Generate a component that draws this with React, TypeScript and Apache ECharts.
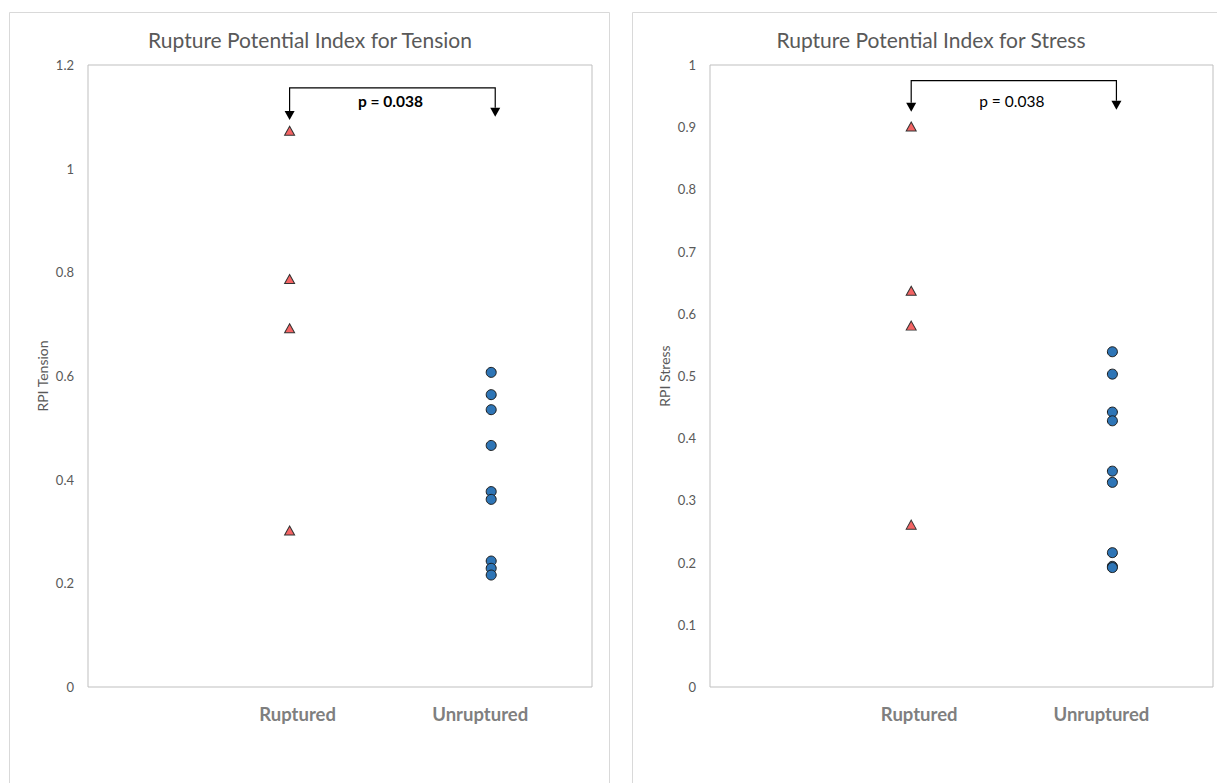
import React, { useEffect, useRef } from "react";
import * as echarts from "echarts";

const categories = ["Ruptured", "Unruptured"];
const categoryX = [1, 2];
const titles = ["Rupture Potential Index for Tension", "Rupture Potential Index for Stress"];
const axisNames = ["RPI Tension", "RPI Stress"];
const tensionRuptured = [1.073, 0.787, 0.692, 0.302];
const tensionUnruptured = [0.607, 0.564, 0.535, 0.466, 0.377, 0.362, 0.243, 0.229, 0.216];
const stressRuptured = [0.901, 0.637, 0.581, 0.261];
const stressUnruptured = [0.539, 0.503, 0.442, 0.428, 0.347, 0.329, 0.216, 0.194, 0.192];
const yMax = [1.2, 1];
const yInterval = [0.2, 0.1];
const pText = "p = 0.038";
// bracket: [top, left tip, right tip] in data units
const bracketY = [
  [1.156, 1.094, 1.1],
  [0.975, 0.925, 0.928],
];
const bracketRightX = 2.02;

const FONT = "Lato, 'Liberation Sans', sans-serif";

export default function App() {
  const ref = useRef<HTMLDivElement>(null);
  useEffect(() => {
    if (!ref.current) return;
    const chart = echarts.init(ref.current, null, { renderer: "svg" });
    const grids = [
      { left: 88, top: 65, width: 504, height: 622 },
      { left: 710, top: 65, width: 503, height: 622 },
    ];
    const datasets = [
      [tensionRuptured, tensionUnruptured],
      [stressRuptured, stressUnruptured],
    ];
    const series: any[] = [];
    datasets.forEach((ds, gi) => {
      series.push({
        type: "scatter",
        xAxisIndex: gi,
        yAxisIndex: gi,
        symbol: "triangle",
        symbolSize: [10, 9],
        itemStyle: { color: "#f46464", borderColor: "#333333", borderWidth: 1, opacity: 1 },
        data: ds[0].map((v) => [categoryX[0], v]),
        z: 3,
      });
      series.push({
        type: "scatter",
        xAxisIndex: gi,
        yAxisIndex: gi,
        symbol: "circle",
        symbolSize: 10,
        itemStyle: { color: "#2e75b6", borderColor: "#1a1a1a", borderWidth: 1, opacity: 1 },
        data: ds[1].map((v) => [categoryX[1], v]),
        z: 3,
      });
    });
    chart.setOption({
      animation: false,
      grid: grids.map((g) => ({ ...g, show: true, borderColor: "#bfbfbf", borderWidth: 1, backgroundColor: "transparent" })),
      xAxis: grids.map((_, gi) => ({
        type: "value",
        gridIndex: gi,
        min: 0,
        max: 2.5,
        show: false,
      })),
      yAxis: grids.map((_, gi) => ({
        type: "value",
        gridIndex: gi,
        min: 0,
        max: yMax[gi],
        interval: yInterval[gi],
        name: axisNames[gi],
        nameLocation: "middle",
        nameGap: 39,
        nameRotate: 90,
        nameTextStyle: { color: "#595959", fontSize: 14, fontFamily: FONT },
        axisLine: { show: false },
        axisTick: { show: false },
        splitLine: { show: false },
        axisLabel: { color: "#595959", fontSize: 13, fontFamily: FONT, margin: 14 },
      })),
      series,
    });

    const graphic: any[] = [
      { type: "rect", shape: { x: 9.5, y: 12.5, width: 600, height: 800 }, style: { fill: "none", stroke: "#d9d9d9", lineWidth: 1 }, z: -1 },
      { type: "rect", shape: { x: 632.5, y: 12.5, width: 620, height: 800 }, style: { fill: "none", stroke: "#d9d9d9", lineWidth: 1 }, z: -1 },
    ];
    const titleX = [310, 931];
    const labelOffsets = [8, -11];
    grids.forEach((g, gi) => {
      graphic.push({
        type: "text",
        x: titleX[gi],
        y: 39,
        style: { text: titles[gi], fill: "#595959", fontSize: 21, fontFamily: FONT, align: "center", verticalAlign: "middle" },
      });
      categories.forEach((c, ci) => {
        const px = chart.convertToPixel({ xAxisIndex: gi }, categoryX[ci]) as number;
        graphic.push({
          type: "text",
          x: px + labelOffsets[ci],
          y: 714,
          style: { text: c, fill: "#7f7f7f", fontSize: 18.5, fontWeight: "bold", fontFamily: FONT, align: "center", verticalAlign: "middle" },
        });
      });
      const [yTop, tipL, tipR] = bracketY[gi];
      const xL = chart.convertToPixel({ xAxisIndex: gi }, categoryX[0]) as number;
      const xR = chart.convertToPixel({ xAxisIndex: gi }, bracketRightX) as number;
      const pyTop = chart.convertToPixel({ yAxisIndex: gi }, yTop) as number;
      const pyL = chart.convertToPixel({ yAxisIndex: gi }, tipL) as number;
      const pyR = chart.convertToPixel({ yAxisIndex: gi }, tipR) as number;
      const ah = 9;
      graphic.push({
        type: "polyline",
        shape: { points: [[xL, pyL - ah], [xL, pyTop], [xR, pyTop], [xR, pyR - ah]] },
        style: { stroke: "#000", lineWidth: 1.2, fill: "none" },
      });
      graphic.push({ type: "polygon", shape: { points: [[xL - 5, pyL - ah], [xL + 5, pyL - ah], [xL, pyL]] }, style: { fill: "#000" } });
      graphic.push({ type: "polygon", shape: { points: [[xR - 5, pyR - ah], [xR + 5, pyR - ah], [xR, pyR]] }, style: { fill: "#000" } });
      graphic.push({
        type: "text",
        x: (xL + xR) / 2 - 2,
        y: 101,
        style: { text: pText, fill: "#000", fontSize: 15.5, fontWeight: gi === 0 ? "bold" : "normal", fontFamily: FONT, align: "center", verticalAlign: "middle" },
      });
    });
    chart.setOption({ graphic });
    return () => chart.dispose();
  }, []);
  return <div ref={ref} style={{ position: "absolute", left: 0, top: 0, width: 1217, height: 783, background: "#fff" }} />;
}
